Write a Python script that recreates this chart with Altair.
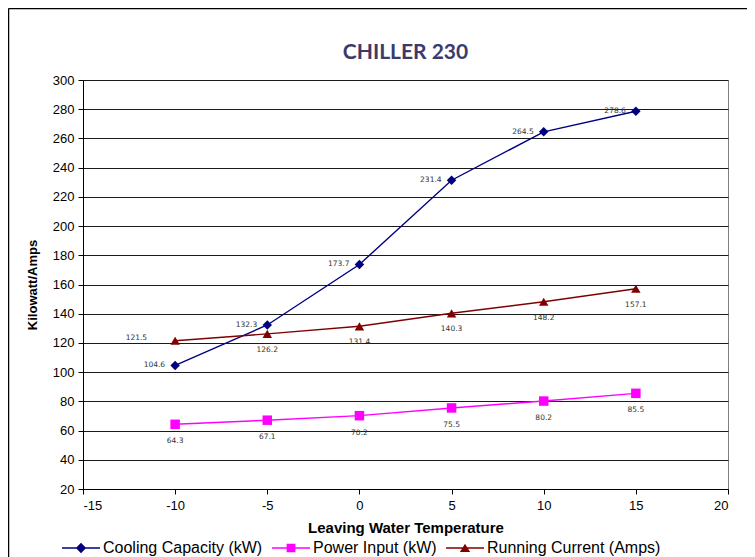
import altair as alt
import pandas as pd

# ---- data ----
temps = [-10, -5, 0, 5, 10, 15]
cooling = [104.6, 132.3, 173.7, 231.4, 264.5, 278.6]
power = [64.3, 67.1, 70.2, 75.5, 80.2, 85.5]
current = [121.5, 126.2, 131.4, 140.3, 148.2, 157.1]

series_names = ["Cooling Capacity (kW)", "Power Input (kW)", "Running Current (Amps)"]
series_colors = ["#000080", "#FF00FF", "#800000"]
marker_shapes = ["diamond", "square", "triangle-up"]
legend_shapes = [
    "M-1,-0.04H1V0.04H-1Z M0,-0.27L0.27,0L0,0.27L-0.27,0Z",
    "M-1,-0.04H1V0.04H-1Z M-0.23,-0.23H0.23V0.23H-0.23Z",
    "M-1,-0.04H1V0.04H-1Z M0,-0.23L0.27,0.21L-0.27,0.21Z",
]
y_ticks = list(range(20, 301, 20))
x_ticks = list(range(-15, 21, 5))

rows = []
for name, vals in zip(series_names, [cooling, power, current]):
    for t, v in zip(temps, vals):
        rows.append({"temp": t, "value": v, "series": name})
df = pd.DataFrame(rows)

W, H = 645, 409
PAD_L, PAD_T = 75, 72

x_enc = alt.X(
    "temp:Q",
    scale=alt.Scale(domain=[-15, 20], nice=False),
    axis=alt.Axis(
        values=x_ticks, grid=False, tickSize=5, labelPadding=5,
        labelExpr="toString(datum.value)",
        title="Leaving Water Temperature", titleFontSize=15, titleFontWeight="bold",
        titlePadding=8,
    ),
)
y_enc = alt.Y(
    "value:Q",
    scale=alt.Scale(domain=[20, 300], nice=False),
    axis=alt.Axis(
        values=y_ticks, grid=True, tickSize=5, labelPadding=4,
        title="Kilowatt/Amps", titleFontSize=13, titleFontWeight="bold",
        titlePadding=13,
    ),
)

one = pd.DataFrame({"a": [0]})
frame_top = alt.Chart(one).mark_rule(stroke="#000000", strokeWidth=1.5).encode(
    x=alt.value(-PAD_L + 0.5), x2=alt.value(W + 100),
    y=alt.value(-PAD_T + 0.5), y2=alt.value(-PAD_T + 0.5),
)
frame_left = alt.Chart(one).mark_rule(stroke="#000000", strokeWidth=1.5).encode(
    x=alt.value(-PAD_L + 0.5), x2=alt.value(-PAD_L + 0.5),
    y=alt.value(-PAD_T + 0.5), y2=alt.value(H + 100),
)

base = alt.Chart(df)

lines = base.mark_line(strokeWidth=1.4).encode(
    x=x_enc, y=y_enc,
    color=alt.Color("series:N", scale=alt.Scale(domain=series_names, range=series_colors), legend=None),
)

points = base.mark_point(filled=True, opacity=1, size=90).encode(
    x=x_enc, y=y_enc,
    color=alt.Color("series:N", scale=alt.Scale(domain=series_names, range=series_colors), legend=None),
    shape=alt.Shape("series:N", scale=alt.Scale(domain=series_names, range=marker_shapes), legend=None),
)

leg = dict(title=None, orient="none", legendX=-21, legendY=449, direction="horizontal")
legend_carrier = base.mark_point(filled=True, opacity=0).encode(
    x=x_enc, y=y_enc,
    color=alt.Color("series:N", scale=alt.Scale(domain=series_names, range=series_colors),
                    legend=alt.Legend(**leg)),
    shape=alt.Shape("series:N", scale=alt.Scale(domain=series_names, range=legend_shapes),
                    legend=alt.Legend(**leg)),
)

label_props = dict(font="DejaVu Sans", fontSize=7.5, color="#333333", baseline="middle")

cool_labels = alt.Chart(df[df.series == series_names[0]]).mark_text(
    align="right", dx=-10, **label_props
).encode(x=x_enc, y=y_enc, text=alt.Text("value:Q", format=".1f"))

power_labels = alt.Chart(df[df.series == series_names[1]]).mark_text(
    align="center", dy=17, **label_props
).encode(x=x_enc, y=y_enc, text=alt.Text("value:Q", format=".1f"))

cur_df = df[df.series == series_names[2]]
cur_labels = alt.Chart(cur_df[cur_df.temp != temps[0]]).mark_text(
    align="center", dy=16, **label_props
).encode(x=x_enc, y=y_enc, text=alt.Text("value:Q", format=".1f"))

cur_first = alt.Chart(cur_df[cur_df.temp == temps[0]]).mark_text(
    align="right", dx=-28, dy=-3, **label_props
).encode(x=x_enc, y=y_enc, text=alt.Text("value:Q", format=".1f"))

chart = alt.layer(
    frame_top, frame_left, lines, points, legend_carrier,
    cool_labels, power_labels, cur_labels, cur_first
).resolve_scale(
    color="independent", shape="independent"
).properties(
    width=W, height=H,
    title=alt.TitleParams(
        "CHILLER 230", font="Lato", fontSize=21, fontWeight="bold", color="#3d3a6b",
        anchor="middle", frame="group", baseline="alphabetic", offset=0, dy=72,
    ),
    autosize=alt.AutoSizeParams(type="none"),
    padding={"left": PAD_L, "top": PAD_T, "right": 19, "bottom": 68},
).configure(
    background="white",
).configure_view(
    stroke="#808080", strokeWidth=1,
).configure_axis(
    labelFont="Liberation Sans", labelFontSize=13, labelColor="#000000",
    titleFont="Liberation Sans", titleColor="#000000",
    domainColor="#000000", tickColor="#000000", gridColor="#1a1a1a", gridWidth=1,
    domainWidth=1, tickWidth=1,
).configure_legend(
    labelFont="Liberation Sans", labelFontSize=16, labelColor="#000000",
    symbolSize=1444, symbolStrokeWidth=0, symbolOpacity=1, labelOffset=3,
    columnPadding=9, labelLimit=400, padding=0,
)

chart.save("out.html", embed_options={"renderer": "svg", "actions": False})
